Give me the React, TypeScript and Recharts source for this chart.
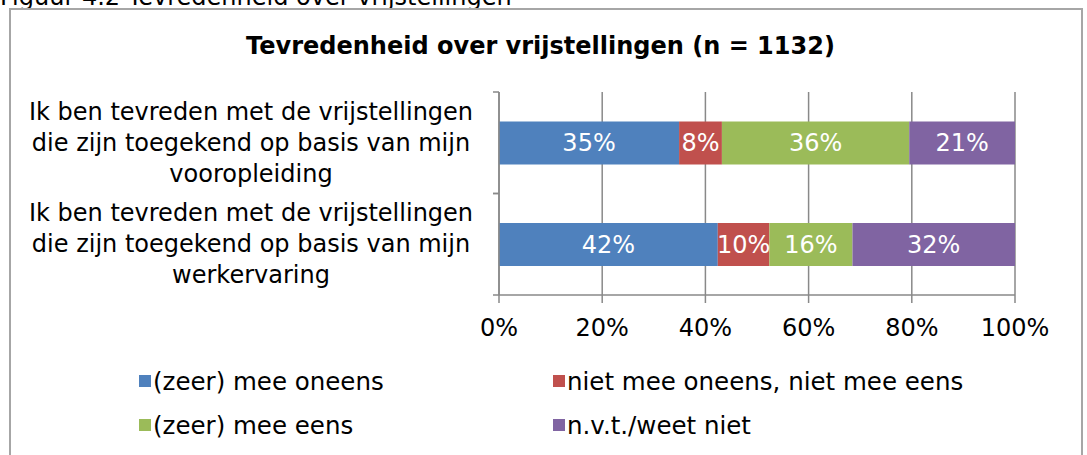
import React from "react";
import { BarChart, Bar, XAxis, YAxis, CartesianGrid, LabelList } from "recharts";

const categoryLines: string[][] = [
  ["Ik ben tevreden met de vrijstellingen", "die zijn toegekend op basis van mijn", "vooropleiding"],
  ["Ik ben tevreden met de vrijstellingen", "die zijn toegekend op basis van mijn", "werkervaring"],
];
const categories = ["vooropleiding", "werkervaring"];

const seriesNames = [
  "(zeer) mee oneens",
  "niet mee oneens, niet mee eens",
  "(zeer) mee eens",
  "n.v.t./weet niet",
];
const seriesKeys = ["oneens", "neutraal", "eens", "nvt"];
const seriesColors = ["#4F81BD", "#C0504D", "#9BBB59", "#8064A2"];

const oneens = [34.9, 42.4];
const neutraal = [8.3, 10.0];
const eens = [36.3, 16.1];
const nvt = [20.5, 31.5];

const xTicks = [0, 20, 40, 60, 80, 100];

const data = categories.map((c, i) => ({
  name: c,
  oneens: oneens[i],
  neutraal: neutraal[i],
  eens: eens[i],
  nvt: nvt[i],
}));

const FONT = "Verdana, 'DejaVu Sans', sans-serif";
const GRID = "#898989";
const FS = 24;

const YTick = (props: any) => {
  const { x, y, payload, index } = props;
  const lines = categoryLines[index] || [String(payload.value)];
  const half = payload && typeof payload.offset === "number" && payload.offset > 0 ? payload.offset : 50.75;
  const axisX = x + 8;
  const cx = x - 240;
  const lh = 31;
  const start = y - ((lines.length - 1) * lh) / 2;
  return (
    <g>
      <line x1={axisX - 6} x2={axisX} y1={y - half} y2={y - half} stroke={GRID} strokeWidth={1.5} />
      <line x1={axisX - 6} x2={axisX} y1={y + half} y2={y + half} stroke={GRID} strokeWidth={1.5} />
      {lines.map((l, i) => (
        <text
          key={i}
          x={cx}
          y={start + i * lh}
          textAnchor="middle"
          dominantBaseline="central"
          fontSize={FS}
          fontFamily={FONT}
          fill="#000"
        >
          {l}
        </text>
      ))}
    </g>
  );
};

export default function App() {
  return (
    <div
      style={{
        position: "absolute",
        left: 0,
        top: 0,
        width: 1087,
        height: 455,
        overflow: "hidden",
        background: "#fff",
        fontFamily: FONT,
      }}
    >
      <div
        style={{
          position: "absolute",
          left: 0,
          top: -17,
          fontSize: FS,
          lineHeight: "28px",
          whiteSpace: "nowrap",
          color: "#000",
        }}
      >
        Figuur 4.2 Tevredenheid over vrijstellingen
      </div>
      <div
        style={{
          position: "absolute",
          left: 9,
          top: 8,
          width: 1074,
          height: 460,
          border: "2px solid #a6a6a6",
          boxSizing: "border-box",
        }}
      />
      <div
        style={{
          position: "absolute",
          left: 0,
          width: 1087,
          top: 31,
          textAlign: "center",
          fontSize: FS,
          fontWeight: "bold",
          lineHeight: "30px",
          color: "#000",
          whiteSpace: "nowrap",
          paddingRight: 6,
          boxSizing: "border-box",
        }}
      >
        Tevredenheid over vrijstellingen (n = 1132)
      </div>
      <div style={{ position: "absolute", left: 0, top: 0 }}>
        <BarChart
          width={1087}
          height={455}
          data={data}
          layout="vertical"
          margin={{ top: 92, right: 72, bottom: 120, left: 10 }}
          barCategoryGap="29%"
        >
          <CartesianGrid horizontal={false} vertical={true} stroke={GRID} strokeWidth={1.5} />
          <XAxis
            type="number"
            domain={[0, 100]}
            ticks={xTicks}
            interval={0}
            height={40}
            tickFormatter={(v: number) => `${v}%`}
            tickSize={8}
            tickMargin={16}
            axisLine={{ stroke: GRID, strokeWidth: 1.5 }}
            tickLine={{ stroke: GRID, strokeWidth: 1.5 }}
            tick={{ fill: "#000", fontSize: FS, fontFamily: FONT }}
          />
          <YAxis
            type="category"
            dataKey="name"
            width={489}
            tickSize={6}
            tickMargin={2}
            tickLine={false}
            axisLine={{ stroke: GRID, strokeWidth: 1.5 }}
            tick={<YTick />}
            interval={0}
          />
          {seriesKeys.map((k, i) => (
            <Bar
              key={k}
              dataKey={k}
              name={seriesNames[i]}
              stackId="a"
              fill={seriesColors[i]}
              isAnimationActive={false}
            >
              <LabelList
                dataKey={k}
                position="center"
                formatter={(v: any) => `${Math.round(Number(v))}%`}
                fill="#fff"
                fontSize={FS}
                fontFamily={FONT}
              />
            </Bar>
          ))}
        </BarChart>
      </div>
      {seriesNames.map((n, i) => {
        const col = i % 2;
        const row = Math.floor(i / 2);
        return (
          <div
            key={n}
            style={{
              position: "absolute",
              left: col === 0 ? 139 : 553,
              top: row === 0 ? 366 : 410,
              height: 30,
              display: "flex",
              alignItems: "center",
              fontSize: 24.5,
              color: "#000",
              whiteSpace: "nowrap",
            }}
          >
            <span
              style={{
                display: "inline-block",
                width: 12,
                height: 12,
                background: seriesColors[i],
                marginRight: 2,
              }}
            />
            {n}
          </div>
        );
      })}
    </div>
  );
}
